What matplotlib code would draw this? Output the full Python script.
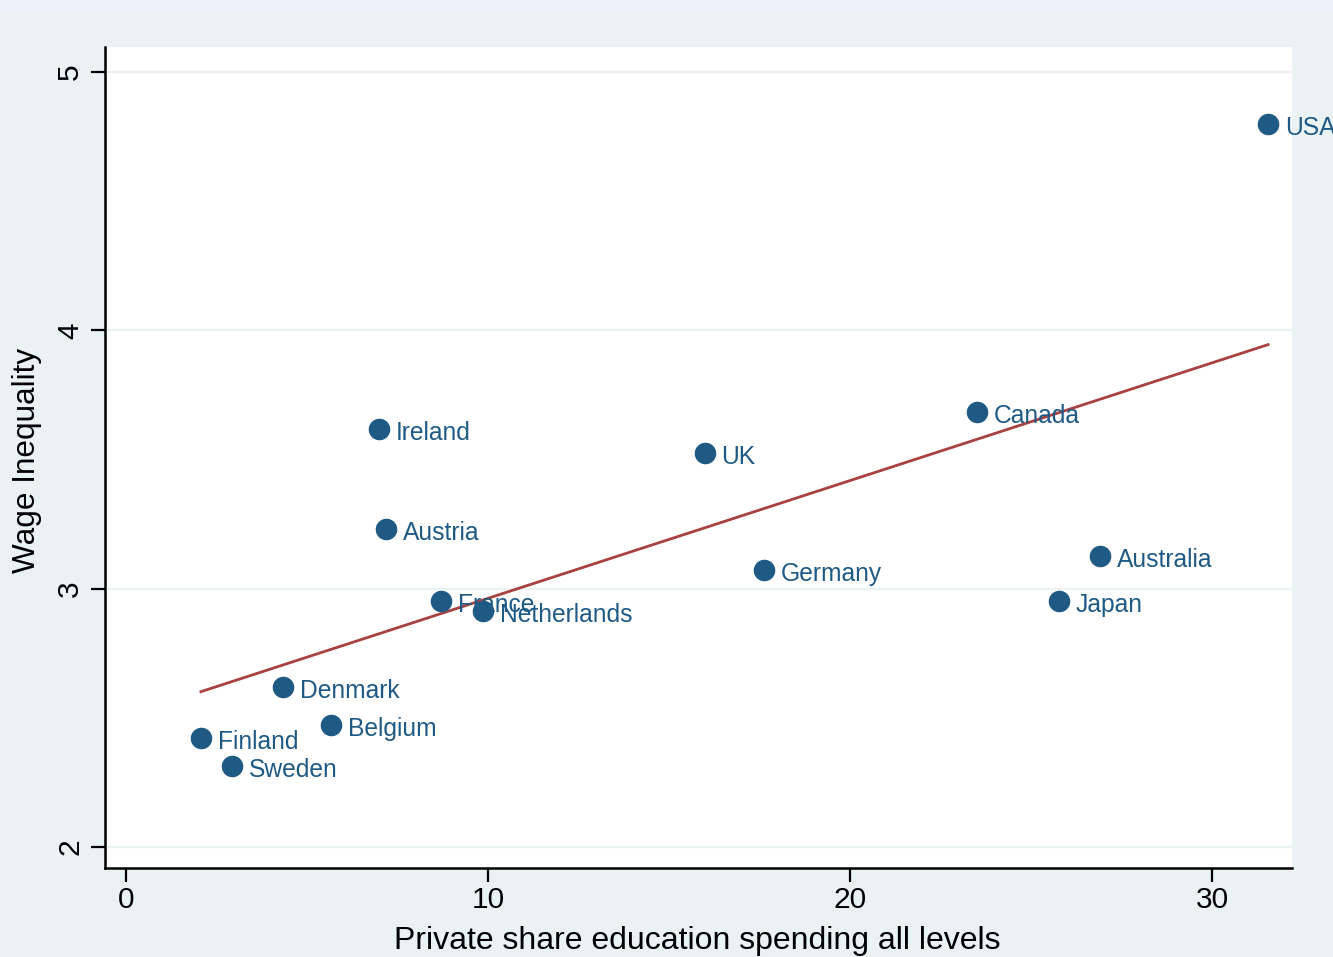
import numpy as np
import matplotlib
matplotlib.use('Agg')
import matplotlib.pyplot as plt

# country data
countries = ['USA', 'Canada', 'UK', 'Ireland', 'Austria', 'Germany', 'Australia',
             'Japan', 'France', 'Netherlands', 'Denmark', 'Belgium', 'Finland', 'Sweden']
private_share = [31.55, 23.51, 15.99, 6.99, 7.18, 17.62, 26.91,
                 25.77, 8.70, 9.86, 4.34, 5.66, 2.07, 2.93]
wage_ineq = [4.80, 3.686, 3.527, 3.620, 3.233, 3.074, 3.128,
             2.953, 2.953, 2.915, 2.620, 2.473, 2.422, 2.314]

x_ticks = [0, 10, 20, 30]
y_ticks = [2, 3, 4, 5]

bg = '#EAF2F3'
navy = '#1F5A85'
maroon = '#A8413F'

plt.rcParams['font.family'] = ['Liberation Sans', 'DejaVu Sans']

fig = plt.figure(figsize=(13.33, 9.57), dpi=100, facecolor=bg)
ax = fig.add_axes([105/1333, 1 - 868/957, (1292-105)/1333, (868-47)/957])
ax.set_facecolor('white')

# thin lighter band at the very top (remains of the graph title region)
fig.patches.append(plt.Rectangle((0, 1 - 13/957), 1, 13/957, transform=fig.transFigure,
                                 facecolor='#EBF2F9', edgecolor='none', zorder=0))

x = np.array(private_share)
y = np.array(wage_ineq)

ax.set_xlim(-0.58, 32.21)
ax.set_ylim(1.919, 5.097)

for t in y_ticks:
    ax.axhline(t, color=bg, lw=1.6, zorder=0)

# linear fit over the data range
b, a = np.polyfit(x, y, 1)
xs = np.array([x.min(), x.max()])
ax.plot(xs, a + b * xs, color=maroon, lw=2, zorder=2)

ax.plot(x, y, 'o', ms=14.5, color=navy, mec=navy, zorder=3)
for name, xi, yi in zip(countries, x, y):
    ax.annotate(name, (xi, yi), xytext=(12, -3), textcoords='offset points',
                va='center', ha='left', fontsize=17.7, color=navy, zorder=4,
                annotation_clip=False)

ax.spines['top'].set_visible(False)
ax.spines['right'].set_visible(False)
for s in ('left', 'bottom'):
    ax.spines[s].set_linewidth(1.8)

ax.set_xticks(x_ticks)
ax.set_yticks(y_ticks)
ax.tick_params(axis='both', length=10, width=1.6, labelsize=21.5, color='black')
ax.tick_params(axis='x', pad=3)
ax.tick_params(axis='y', pad=5, labelrotation=90)
for lab in ax.get_yticklabels():
    lab.set_va('center')

fig.text(697/1333, 1 - 941/957, 'Private share education spending all levels',
         ha='center', va='center', fontsize=23)
fig.text(27/1333, 1 - 460/957, 'Wage Inequality', rotation=90,
         ha='center', va='center', fontsize=22.7)

fig.savefig('out.png', dpi=100, facecolor=bg)
